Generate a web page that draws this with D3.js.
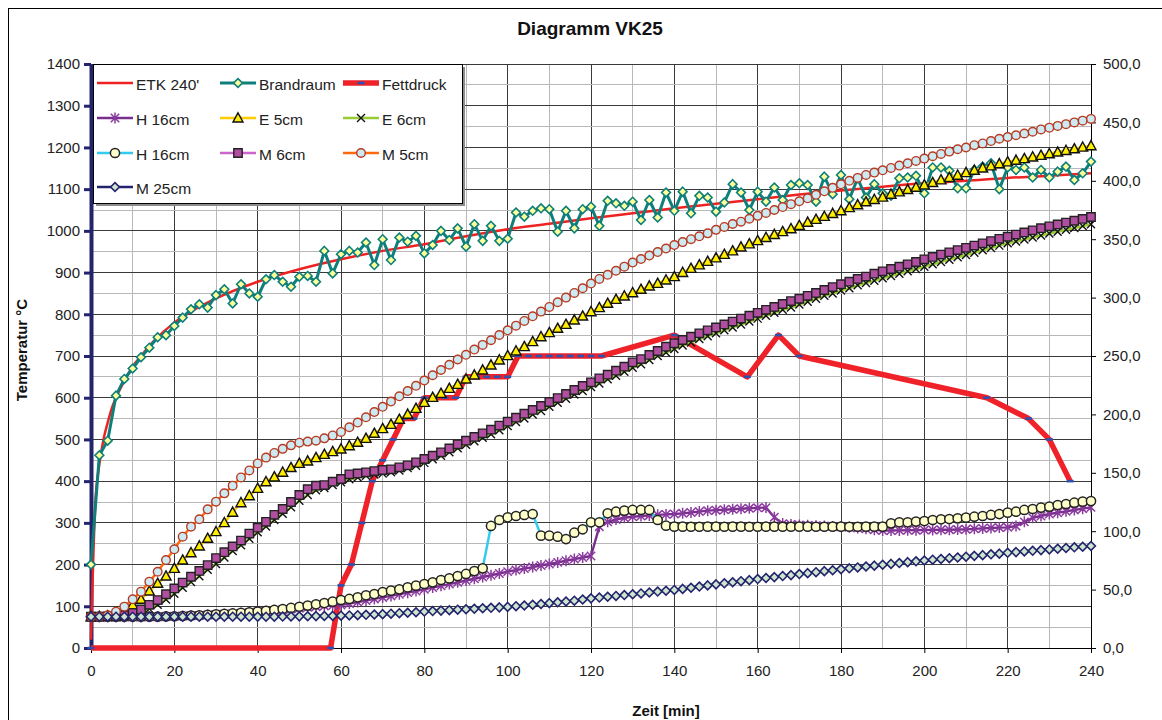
<!DOCTYPE html>
<html><head><meta charset="utf-8">
<script src="https://cdn.jsdelivr.net/npm/d3@7"></script>
<style>
body{margin:0;background:#fff;}
text{font-family:Arial,"Liberation Sans",sans-serif;}
</style></head><body>
<svg id="c" width="1162" height="720"></svg>
<script>
// ---------------- DATA ----------------
const time = [0,2,4,6,8,10,12,14,16,18,20,22,24,26,28,30,32,34,36,38,40,42,44,46,48,50,52,54,56,58,
60,62,64,66,68,70,72,74,76,78,80,82,84,86,88,90,92,94,96,98,100,102,104,106,108,110,112,114,116,118,
120,122,124,126,128,130,132,134,136,138,140,142,144,146,148,150,152,154,156,158,160,162,164,166,168,170,172,174,176,178,
180,182,184,186,188,190,192,194,196,198,200,202,204,206,208,210,212,214,216,218,220,222,224,226,228,230,232,234,236,238,240];

const xTicks = [0,20,40,60,80,100,120,140,160,180,200,220,240];
const leftTicks = [0,100,200,300,400,500,600,700,800,900,1000,1100,1200,1300,1400];
const rightTicks = [0,50,100,150,200,250,300,350,400,450,500];

// ETK 240' (left axis)
const etkTime = [0,1,2,3,4,5,6,8,10,12,15,20,25,30,40,50,60,70,80,90,100,110,120,130,140,150,160,170,180,190,200,210,220,230,240];
const etkVal  = [20,340,440,500,540,575,600,640,675,700,735,780,812,838,878,908,932,952,968,987,1004,1017,1030,1042,1054,1065,1076,1087,1097,1106,1114,1120,1127,1132,1138];

// Brandraum (left axis)
const brandraum = [200,462,497,605,645,670,697,720,745,750,
772,792,812,824,816,846,860,826,872,850,
842,884,894,878,866,890,892,878,952,898,
944,952,948,972,918,980,930,984,974,988,
946,966,1000,978,1006,962,1016,976,1012,976,
981,1044,1034,1048,1054,1052,998,1048,1006,1052,
1058,1012,1072,1066,1060,1070,1026,1074,1032,1092,
1048,1094,1042,1084,1080,1046,1068,1112,1092,1050,
1094,1070,1104,1074,1110,1114,1110,1070,1130,1088,
1134,1076,1126,1080,1112,1090,1084,1126,1128,1132,
1090,1152,1152,1144,1102,1102,1146,1154,1162,1100,
1152,1146,1152,1128,1146,1128,1142,1154,1122,1138,
1166];

// Fettdruck (left axis)
const fettTime = [0,57.5,60,62.5,65,67.5,70,72.5,75,77.5,80,82.5,85,87.5,90,92.5,95,97.5,100,102.5,105,107.5,110,112.5,115,117.5,120,122.5,140,157.5,165,170,215,225,230,235];
const fettVal  = [0,0,150,200,300,400,450,500,550,550,600,600,600,600,650,650,650,650,650,700,700,700,700,700,700,700,700,700,750,650,750,700,600,550,500,400];

// H 16cm (stars, right axis)
const h16a = [26.5,26.5,26.5,26.5,26.5,26.5,26.6,26.7,26.8,27,
27.2,27.4,27.6,27.9,28.2,28.5,28.9,29.3,29.8,30.3,
30.8,31.4,32,32.7,33.4,34.1,34.8,35.4,36,36.4,
36.8,38,39.3,40.6,42,43.3,44.6,46,47.4,48.8,
50.2,51.7,53.2,54.7,56.2,57.8,59.3,60.8,62.3,63.8,
65.4,66.7,68,69.3,70.6,71.9,73.3,74.7,76.1,77.5,
78.8,103.9,108,110,111.5,112.4,113,113.5,114,114.4,
114.7,115.3,116,116.8,117.6,118,118.4,118.8,119.2,119.6,
120,120.2,112,106.5,105.8,105.3,105,104.7,104.4,104.1,
103.9,103.4,102.8,102,101.2,100.5,100.6,100.7,100.8,100.9,
101,101.1,101.2,101.3,101.4,101.6,102,102.4,102.8,103.1,
103.3,104.5,108,111.5,113,114.7,115.8,117,118.2,119.3,
120.4];

// E 5cm (right axis)
const e5 = [26.8,27,27.5,29,32,36.8,41.7,48.8,55.4,61.6,
68.2,75.3,81.6,87.3,93.9,99.6,107.3,116.2,124.4,130.4,
136.7,142.4,146.5,150.5,154.5,158.1,160.1,163,165.8,168.1,
170.4,173.2,176.1,179.5,183.8,187.8,191.5,195.8,200.1,205.2,
210.3,214.6,218,222.3,225.7,230.3,233.7,238,242.3,246.6,
250.3,254.3,258,262.3,266.5,270,273.7,277.1,280.8,284.2,
287.9,291.4,295.1,298.5,301.4,304.2,307.1,309.9,312.2,315.1,
318,321.5,325,328,331,334,337,340,343.3,346,
348.8,351.5,354,356.5,359,361.8,364.5,367,369.5,372,
374.4,377,379.5,382,384,386,388.5,390.5,392.5,394.5,
396.5,398.5,400.8,402.8,404.8,407,409,411,412.8,414.6,
416.2,417.6,419,420.4,421.8,423.2,424.6,426,427.4,428.8,
430];

// E 6cm (right axis)
const e6 = [26.8,26.8,26.8,27,27.5,28.5,30.5,33.5,37,41.5,
46.5,51.5,56.5,61.5,67,72,77.5,83,88,93.5,
99,104,109.5,115,120.5,126,131,135,137,139.5,
142,144.5,146,147.5,148.5,149.5,150.5,152,154,156,
158.5,161.5,164.5,167.5,171,174,177,180,183,186.5,
190,193.5,196.5,200,203,206.5,210,213.5,217,220,
223.5,226.5,230,233,236.5,240,243,246.5,250,253,
256,259,261.5,264.5,267,269.5,272,274.5,277,279.5,
282,284.5,287,289.5,291.5,294,296.5,299,301.5,303.5,
306,308,310.5,312.5,314.5,316.5,318.5,320.5,322.5,324.5,
326.5,328.5,330.5,332.5,334.5,336.5,338.5,340.5,342.5,344.5,
346.5,348,349.8,351.5,353.2,354.8,356.4,358,359.6,361.2,
362.8];

// H 16cm (circles, right axis)
const h16b = [26.8,26.8,26.8,26.8,26.8,26.8,26.8,26.8,26.8,27,
27.2,27.4,27.7,28,28.4,28.8,29.2,29.6,30,30.6,
31.2,31.9,32.6,33.4,34.3,35.3,36.3,37.4,38.5,39.7,
41.1,42,43.4,45.1,46.2,47.9,49.1,50.2,51.9,53.4,
54.8,56.2,58.2,59.6,61.6,63.4,65.9,68.2,104.5,109.6,
111.9,113,113.9,114.7,96.2,96.2,95.3,93.3,98.7,101.6,
107.6,107.6,115.3,116.7,117.6,118.2,118.2,118.2,109.6,104.7,
103.9,103.9,103.8,103.8,103.9,103.9,103.8,103.9,103.9,103.8,
103.8,103.9,103.9,103.8,103.8,103.9,103.9,103.8,103.8,103.9,
103.9,103.8,103.8,103.9,103.9,103.9,106.7,107.6,107.6,108.2,
108.7,109.6,110.2,110.4,111,111.6,112.4,113,113.9,114.7,
115.9,116.7,118.2,119,120.2,121,122.4,123.3,124.4,125.3,
125.8];

// M 6cm (right axis)
const m6 = [26.8,26.8,27,27,28,30,33,37,41,46,
51,56,61,66,71,77,82,87,92,98,
103,108,114,119,125,131,136,139,139.5,142.4,
144.7,148.7,149.5,150.4,151.5,152.4,153,154.7,156.4,159,
161.8,164.7,167.5,170.9,174.4,177.5,180.7,183.8,186.9,190.4,
193.8,197.2,200.6,203.8,207.2,210.6,214,217.5,220.9,224.3,
227.5,230.9,234,237.4,240.9,244.6,247.4,250.9,254.3,258,
260.9,263.7,266.5,269.4,272,274.5,277,279.5,282,284.5,
287,289.5,292,294.5,297,299,301.5,304,306.5,309,
311.5,313.6,316,318,320.5,322.5,324.5,326.5,328.5,330.5,
332.8,334.8,336.8,338.8,340.7,342.6,344.5,346.5,348.4,350.3,
352.2,354,355.8,357.6,359.4,361,362.6,364.2,365.8,367.4,
369];

// M 5cm (right axis)
const m5 = [26.8,27,28,31.1,35.4,41.7,48.2,56.8,65.3,75.3,
84.5,95.3,103.9,110.2,118.7,125.3,132.4,139,146,152,
158,163,167,170.5,173.5,175.8,176.7,177.5,179.5,182,
185,189,193,197.5,202,206.5,211,215.5,220,224.5,
229,233.5,238,242.5,247,251,255.5,259.5,263.5,268,
272,276,280,284,288,292,296,300,304,308,
312,316,319.5,323,326.5,330,333,336,339,342,
345,347.5,350,352.5,355,358,360.5,363,365,367.5,
370,372.5,375,377.5,380,382.5,385,388,391,394,
397,400,402.5,405,407,409,411,413,415,417,
419,421,423,425,427,428.5,430.5,432,434,436,
437.5,439,440.5,442,444,445.5,447,448.5,450,451.5,
453];

// M 25cm (right axis)
const m25 = [26.8,26.8,26.8,26.8,26.8,26.8,26.8,26.8,26.8,26.8,
26.8,26.8,26.8,26.8,26.8,26.8,26.8,26.8,26.8,26.8,
26.8,26.8,26.8,26.9,27,27.1,27.2,27.3,27.4,27.5,
27.7,27.9,28.1,28.4,28.7,29,29.4,29.8,30.2,30.6,
31.2,31.6,32,32.4,32.8,33.2,33.6,34,34.4,34.8,
35.2,35.8,36.4,37,37.7,38.4,39.1,39.8,40.5,41.5,
42.5,43.2,43.9,44.6,45.3,46,46.7,47.5,48.3,49,
49.7,50.6,51.6,52.6,53.6,54.5,55.4,56.3,57.2,58.1,
59,59.9,60.7,61.6,62.4,63.3,64.1,64.9,65.8,66.6,
67.4,68.2,69,69.8,70.5,71.3,72,72.7,73.5,74.2,
74.9,75.6,76.2,76.9,77.5,78.2,78.9,79.5,80.2,80.8,
81.5,82.1,82.7,83.2,83.8,84.4,85,85.6,86.2,86.7,
87.3];

// ---------------- CHART ----------------
const svg = d3.select('#c');
const FONT = 'Arial, "Liberation Sans", sans-serif';
const x = d3.scaleLinear().domain([0,240]).range([91,1091]);
const yL = d3.scaleLinear().domain([0,1400]).range([648,64]);
const yR = d3.scaleLinear().domain([0,500]).range([648,64]);

svg.append('rect').attr('x',8.5).attr('y',8.5).attr('width',1170).attr('height',730)
  .attr('fill','#fff').attr('stroke','#000').attr('stroke-width',1);

// gridlines
const grid = svg.append('g');
d3.range(10,240,10).forEach(t => {
  grid.append('line').attr('x1',x(t)).attr('x2',x(t)).attr('y1',yL(1400)).attr('y2',yL(0))
    .attr('stroke', t%20===0 ? '#3a3a3a' : '#b8b8b8').attr('stroke-width',1).attr('shape-rendering','crispEdges');
});
d3.range(50,1401,50).forEach(v => {
  grid.append('line').attr('x1',x(0)).attr('x2',x(240)).attr('y1',yL(v)).attr('y2',yL(v))
    .attr('stroke', v%100===0 ? '#3a3a3a' : '#b8b8b8').attr('stroke-width',1).attr('shape-rendering','crispEdges');
});

// axes
const axX = svg.append('g').attr('transform','translate(0,648)')
  .call(d3.axisBottom(x).tickValues(xTicks).tickSize(5).tickSizeOuter(0).tickPadding(12).tickFormat(d => String(d)));
axX.select('.domain').attr('stroke','#000');
axX.selectAll('.tick line').attr('stroke','#000');
axX.selectAll('text').attr('font-size',15).attr('font-family',FONT).attr('fill','#222');

const axR = svg.append('g').attr('transform','translate(1091,0)')
  .call(d3.axisRight(yR).tickValues(rightTicks).tickSize(5).tickSizeOuter(0).tickPadding(7)
    .tickFormat(d => d.toFixed(1).replace('.', ',')));
axR.select('.domain').attr('stroke','#000');
axR.selectAll('.tick line').attr('stroke','#000');
axR.selectAll('text').attr('font-size',15).attr('font-family',FONT).attr('fill','#222');

const axL = svg.append('g').attr('transform','translate(91,0)')
  .call(d3.axisLeft(yL).tickValues(leftTicks).tickSize(7).tickSizeOuter(0).tickPadding(4).tickFormat(d => String(d)));
axL.select('.domain').attr('stroke','#24246e').attr('stroke-width',4);
axL.selectAll('.tick line').attr('stroke','#24246e').attr('stroke-width',3);
axL.selectAll('text').attr('font-size',15).attr('font-family',FONT).attr('fill','#222');

// markers
const M = {
  diamond: r => `M0,${-r}L${r},0L0,${r}L${-r},0Z`,
  triangle: () => 'M0,-5.2L5,4L-5,4Z',
  square: () => 'M-4.2,-4.2H4.2V4.2H-4.2Z',
  circle: r => `M${-r},0A${r},${r} 0 1,0 ${r},0A${r},${r} 0 1,0 ${-r},0Z`,
  xmark: () => 'M-4,-4L4,4M-4,4L4,-4',
  star: () => 'M-4.2,-4.2L4.2,4.2M-4.2,4.2L4.2,-4.2M0,-5.5L0,5.5',
  dash: () => 'M-3.5,-1.3H3.5V1.3H-3.5Z'
};

const layer = svg.append('g');
function drawSeries(xs, ys, yScale, st) {
  const pts = xs.map((t,i) => [x(t), yScale(ys[i])]);
  const line = d3.line().curve(st.curve || d3.curveLinear);
  layer.append('path').attr('d', line(pts)).attr('fill','none')
    .attr('stroke', st.color).attr('stroke-width', st.width).attr('stroke-linejoin','round');
  if (st.marker) {
    layer.append('g').selectAll('path').data(pts).join('path')
      .attr('transform', d => `translate(${d[0]},${d[1]})`)
      .attr('d', M[st.marker](st.r))
      .attr('fill', st.mfill || 'none')
      .attr('stroke', st.mstroke || 'none')
      .attr('stroke-width', st.mwidth || 1);
  }
}

const styles = {
  etk: {color:'#ee2222', width:2.5, curve:d3.curveMonotoneX},
  brand: {color:'#0e7f7a', width:3, marker:'diamond', r:4.4, mfill:'#ffff99', mstroke:'#0e7f7a', mwidth:1.6},
  fett: {color:'#ee2228', width:5.5, marker:'dash', mfill:'#3050b0'},
  h16a: {color:'#7a2e8e', width:2.4, marker:'star', mstroke:'#8a3a9e', mwidth:1.5},
  e5: {color:'#ffcc00', width:2.5, marker:'triangle', mfill:'#ffee00', mstroke:'#111', mwidth:1.4},
  e6: {color:'#99cc33', width:2.5, marker:'xmark', mstroke:'#111', mwidth:1.4},
  h16b: {color:'#33ccf0', width:2.5, marker:'circle', r:4.6, mfill:'#ffffcc', mstroke:'#222', mwidth:1.5},
  m6: {color:'#cc66cc', width:2.5, marker:'square', mfill:'#b04fa0', mstroke:'#222', mwidth:1.4},
  m5: {color:'#ff6a10', width:2.5, marker:'circle', r:4.3, mfill:'#cde9f2', mstroke:'#b83a22', mwidth:1.4},
  m25: {color:'#24246e', width:2.5, marker:'diamond', r:4.4, mfill:'#cde6cc', mstroke:'#24246e', mwidth:1.6}
};

drawSeries(etkTime, etkVal, yL, styles.etk);
drawSeries(time, brandraum, yL, styles.brand);
drawSeries(fettTime, fettVal, yL, styles.fett);
drawSeries(time, h16a, yR, styles.h16a);
drawSeries(time, e5, yR, styles.e5);
drawSeries(time, e6, yR, styles.e6);
drawSeries(time, h16b, yR, styles.h16b);
drawSeries(time, m6, yR, styles.m6);
drawSeries(time, m5, yR, styles.m5);
drawSeries(time, m25, yR, styles.m25);

// legend
const legendNames = ["ETK 240'", 'Brandraum', 'Fettdruck', 'H 16cm', 'E 5cm', 'E 6cm', 'H 16cm', 'M 6cm', 'M 5cm', 'M 25cm'];
const legendKeys = ['etk','brand','fett','h16a','e5','e6','h16b','m6','m5','m25'];
const lg = svg.append('g');
lg.append('rect').attr('x',96).attr('y',67).attr('width',369).attr('height',139).attr('fill','#8c8c8c');
lg.append('rect').attr('x',93.5).attr('y',64.5).attr('width',369).attr('height',139)
  .attr('fill','#fff').attr('stroke','#000').attr('stroke-width',1);
const colX = [97,220,343];
const rowY = [90,125,160,194];
legendKeys.forEach((k,i) => {
  const st = styles[k];
  const cx = colX[i%3], by = rowY[Math.floor(i/3)];
  const ly = by - 7;
  lg.append('line').attr('x1',cx).attr('x2',cx+36).attr('y1',ly).attr('y2',ly)
    .attr('stroke',st.color).attr('stroke-width',st.width);
  if (st.marker) {
    lg.append('path').attr('transform',`translate(${cx+18},${ly})`).attr('d',M[st.marker](st.r))
      .attr('fill',st.mfill||'none').attr('stroke',st.mstroke||'none').attr('stroke-width',st.mwidth||1);
  }
  lg.append('text').attr('x',cx+39).attr('y',by).attr('font-size',15.5).attr('font-family',FONT)
    .attr('fill','#222').text(legendNames[i]);
});

// titles
svg.append('text').attr('x',590).attr('y',35).attr('text-anchor','middle').attr('font-size',19)
  .attr('font-weight','bold').attr('font-family',FONT).attr('fill','#111').text('Diagramm VK25');
svg.append('text').attr('transform','translate(27,350) rotate(-90)').attr('text-anchor','middle')
  .attr('font-size',15).attr('font-weight','bold').attr('font-family',FONT).attr('fill','#111').text('Temperatur °C');
svg.append('text').attr('x',666).attr('y',716).attr('text-anchor','middle').attr('font-size',15)
  .attr('font-weight','bold').attr('font-family',FONT).attr('fill','#111').text('Zeit [min]');
</script>
</body></html>
